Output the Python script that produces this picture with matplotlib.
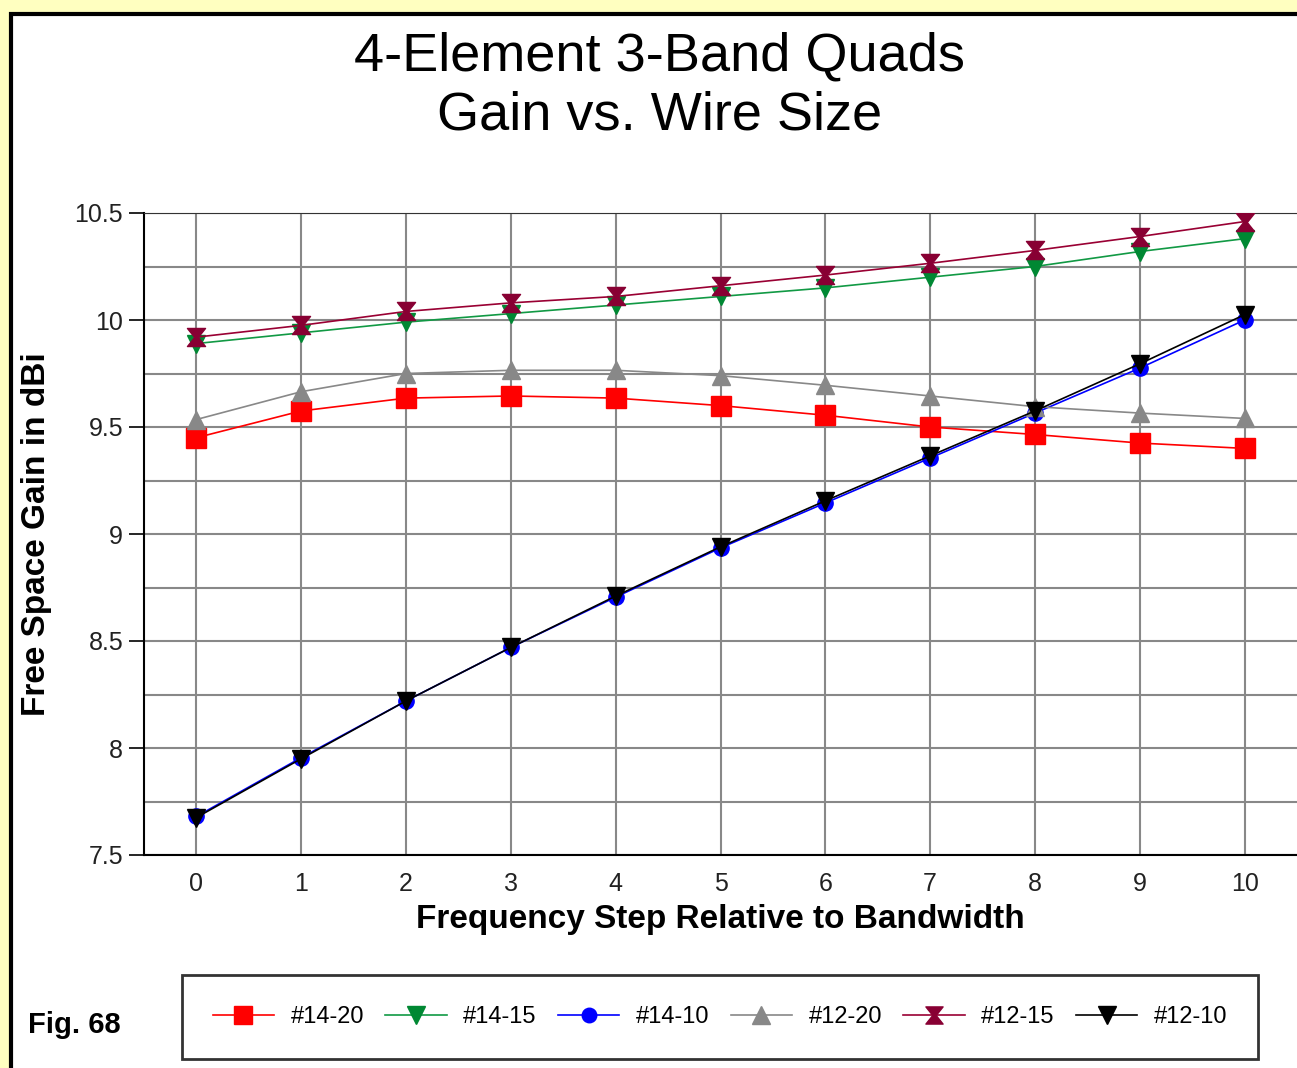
from matplotlib import pyplot as plt
from matplotlib.patches import Rectangle
from matplotlib.path import Path

plt.rcParams['font.family'] = ['Liberation Sans', 'DejaVu Sans']

# data
steps = [0, 1, 2, 3, 4, 5, 6, 7, 8, 9, 10]
g14_20 = [9.45, 9.575, 9.635, 9.645, 9.635, 9.60, 9.555, 9.50, 9.465, 9.425, 9.40]
g14_15 = [9.89, 9.94, 9.99, 10.03, 10.07, 10.11, 10.15, 10.20, 10.25, 10.32, 10.38]
g14_10 = [7.68, 7.955, 8.22, 8.47, 8.705, 8.935, 9.145, 9.355, 9.565, 9.775, 10.0]
g12_20 = [9.535, 9.665, 9.75, 9.765, 9.765, 9.74, 9.695, 9.645, 9.595, 9.565, 9.54]
g12_15 = [9.92, 9.975, 10.04, 10.08, 10.11, 10.16, 10.21, 10.265, 10.325, 10.39, 10.46]
g12_10 = [7.675, 7.95, 8.22, 8.47, 8.71, 8.94, 9.155, 9.365, 9.575, 9.795, 10.025]

labels = ['#14-20', '#14-15', '#14-10', '#12-20', '#12-15', '#12-10']
yticks = [7.5, 8, 8.5, 9, 9.5, 10, 10.5]
ytick_labels = ['7.5', '8', '8.5', '9', '9.5', '10', '10.5']
ygrid = [7.75, 8.25, 8.75, 9.25, 9.75, 10.25]

# hourglass marker for #12-15
hourglass = Path([(-1, 1), (1, 1), (0.2, 0), (1, -1), (-1, -1), (-0.2, 0), (-1, 1)],
                 [Path.MOVETO] + [Path.LINETO] * 5 + [Path.CLOSEPOLY])

fig = plt.figure(figsize=(12.97, 10.68), dpi=100, facecolor='#FFFFC0')

# white panel with black border
panel = Rectangle((11 / 1297, -0.05), 1.1, 1 - 14 / 1068 + 0.05, transform=fig.transFigure,
                  facecolor='white', edgecolor='black', linewidth=3, zorder=-5)
fig.patches.append(panel)

ax = fig.add_axes([144 / 1297, 1 - 855 / 1068, 1 - 144 / 1297, (855 - 213) / 1068])
ax.set_zorder(1)
ax.set_facecolor('white')

styles = [
    (g14_20, '#FF0000', 's', 14),
    (g14_15, '#119944', 'v', 13),
    (g14_10, '#0000FF', 'o', 11),
    (g12_20, '#888888', '^', 13),
    (g12_15, '#990033', hourglass, 13),
    (g12_10, '#000000', 'v', 13),
]
edge = ['#FF0000', '#008833', '#0000FF', '#888888', '#880033', '#000000']
for (vals, col, mk, ms), lab, ec in zip(styles, labels, edge):
    ax.plot(steps, vals, color=col, marker=mk, markersize=ms, markeredgecolor=ec,
            markerfacecolor=ec, linewidth=1.2, label=lab, zorder=3)

ax.set_xlim(-0.5, 10.5)
ax.set_ylim(7.5, 10.5)
ax.set_xticks(steps)
ax.set_yticks(yticks)
ax.set_yticklabels(ytick_labels)
ax.set_yticks(ygrid, minor=True)
ax.grid(True, which='both', color='#888888', linewidth=1.5)
ax.set_axisbelow(True)
ax.tick_params(axis='y', which='major', length=11, width=1.2, labelsize=18, pad=4,
               labelcolor='#222222')
ax.tick_params(axis='y', which='minor', length=0)
ax.tick_params(axis='x', length=0, labelsize=18, pad=12, labelcolor='#222222')
ax.spines['right'].set_visible(False)
ax.spines['top'].set_color('#333333')
ax.spines['left'].set_linewidth(1.5)
ax.spines['bottom'].set_linewidth(1.5)

ax.set_xlabel('Frequency Step Relative to Bandwidth', fontsize=24, fontweight='bold', labelpad=6)
ax.set_ylabel('Free Space Gain in dBi', fontsize=24, fontweight='bold', labelpad=16)

fig.text(660 / 1297, 1 - 86 / 1068, '4-Element 3-Band Quads\nGain vs. Wire Size',
         ha='center', va='center', fontsize=39, linespacing=1.25)
fig.text(28 / 1297, 1 - 1025 / 1068, 'Fig. 68', ha='left', va='center',
         fontsize=21, fontweight='bold')

leg = fig.legend(loc='center', bbox_to_anchor=(720 / 1297, 1 - 1017 / 1068), ncol=6,
                 fontsize=17, frameon=True, fancybox=False,
                 edgecolor='black', handlelength=2.6, columnspacing=0.9, handletextpad=0.7,
                 borderpad=1.3, markerscale=0.95)
leg.get_frame().set_linewidth(2)

fig.savefig('out.png', dpi=100, facecolor=fig.get_facecolor())
